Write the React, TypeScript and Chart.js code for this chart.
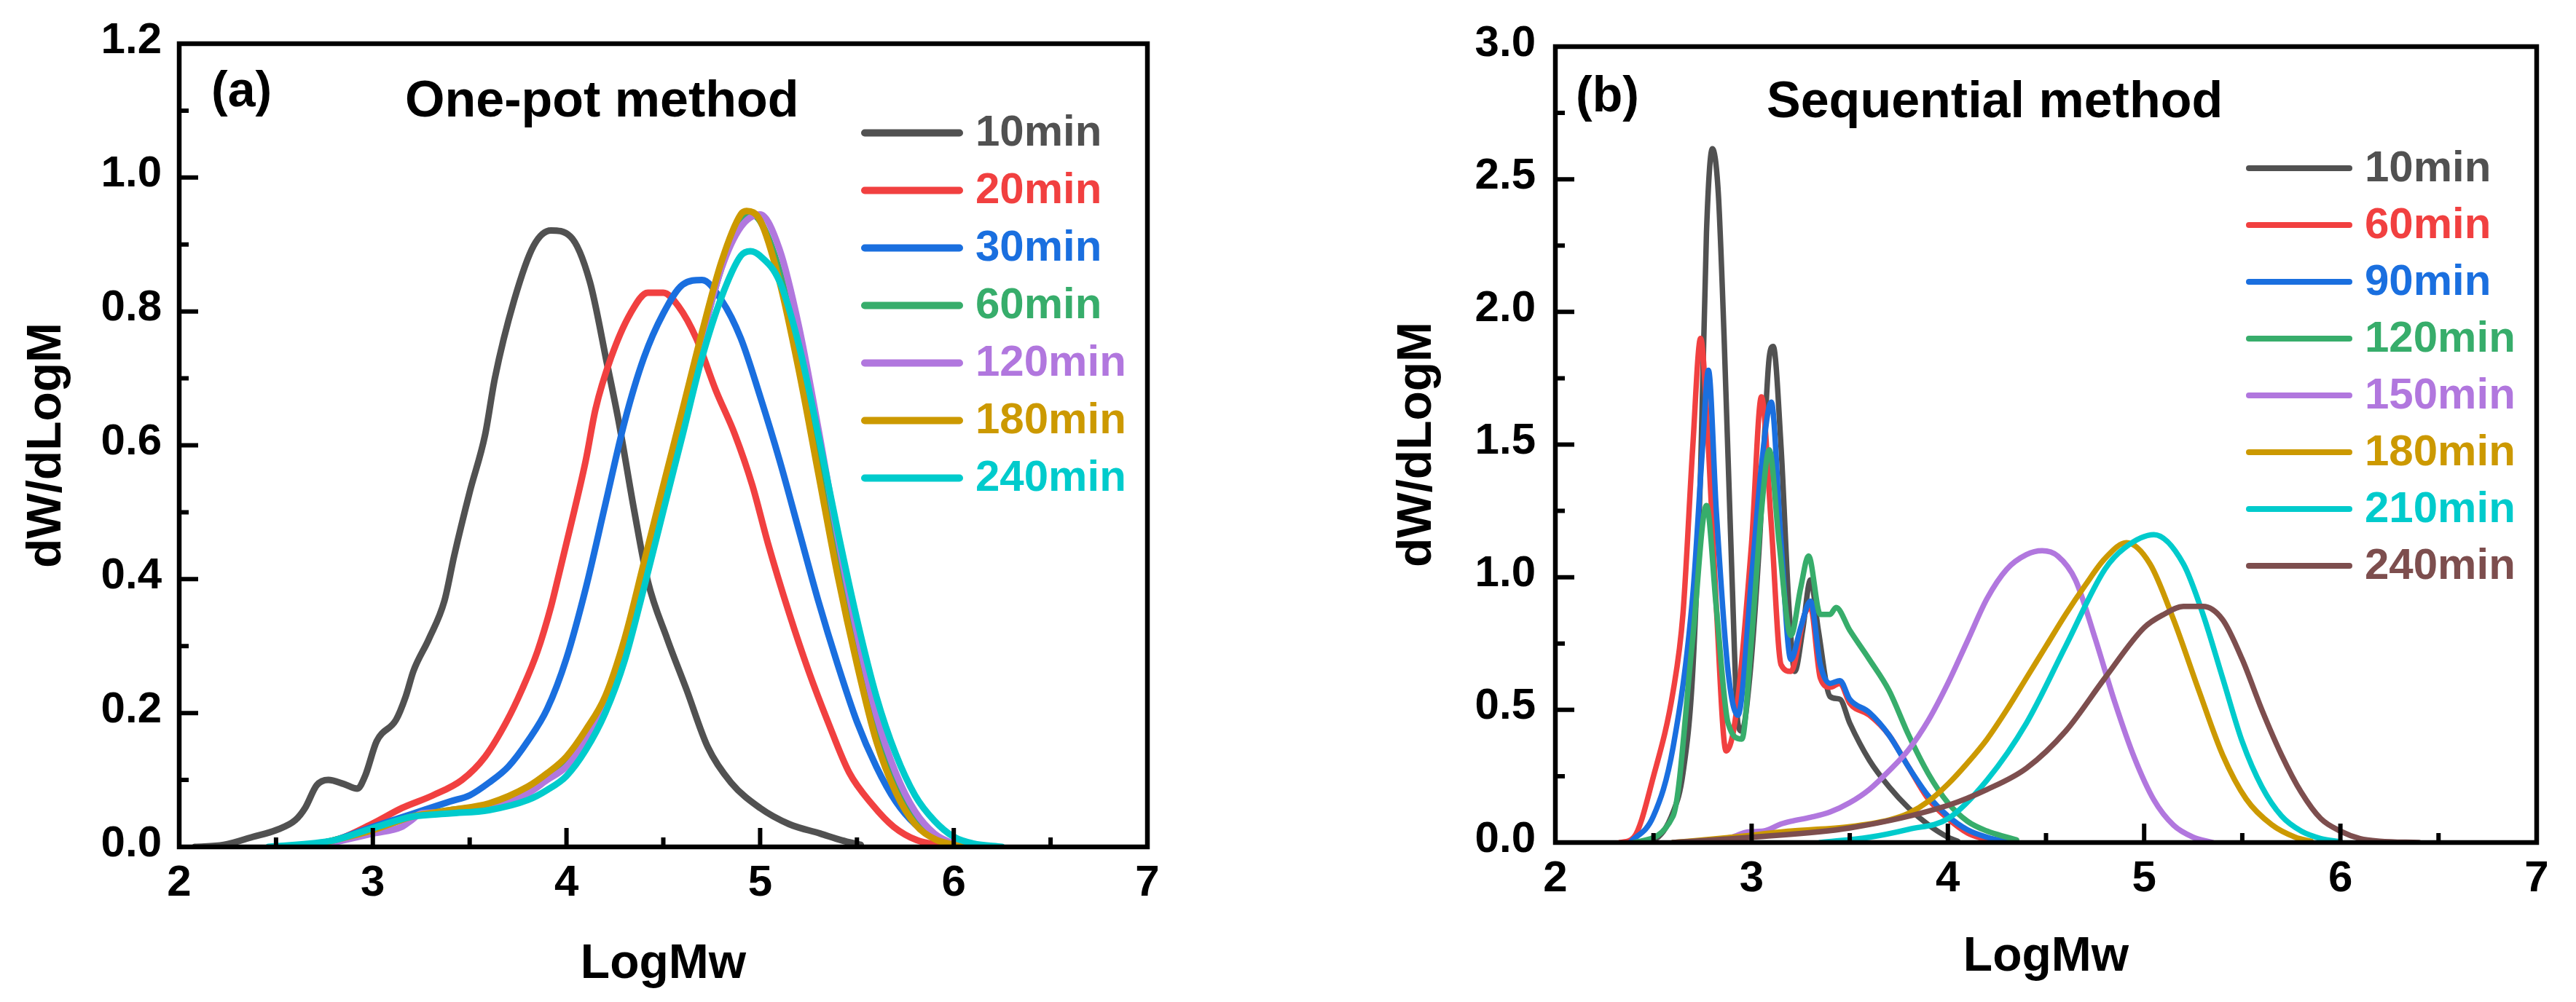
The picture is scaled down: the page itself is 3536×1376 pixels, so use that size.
import React, { useEffect, useRef } from "react";
import { Chart, registerables } from "chart.js";

Chart.register(...registerables);

const FONT = '"Liberation Sans", Arial, Helvetica, sans-serif';

// ---------- Panel (a): One-pot method ----------
const A_LABELS = ["10min", "20min", "30min", "60min", "120min", "180min", "240min"];
const A_COLORS = ["#515151", "#F14040", "#1A6FDF", "#37AD6B", "#B177DE", "#CC9900", "#00CBCC"];

const A10_X = [2.08, 2.23, 2.38, 2.5, 2.6, 2.65, 2.71, 2.77, 2.85, 2.92, 2.96, 3.02, 3.12, 3.17, 3.21, 3.29, 3.37, 3.42, 3.5, 3.58, 3.63, 3.73, 3.83, 3.92, 4.02, 4.12, 4.21, 4.27, 4.35, 4.42, 4.52, 4.62, 4.73, 4.85, 5.0, 5.15, 5.31, 5.42, 5.52];
const A10_Y = [0, 0.003, 0.015, 0.025, 0.04, 0.058, 0.092, 0.1, 0.094, 0.087, 0.106, 0.158, 0.19, 0.225, 0.263, 0.311, 0.368, 0.435, 0.53, 0.616, 0.7, 0.817, 0.898, 0.921, 0.912, 0.845, 0.721, 0.635, 0.502, 0.397, 0.311, 0.235, 0.149, 0.096, 0.058, 0.034, 0.02, 0.01, 0.003];

const A20_X = [2.62, 2.81, 3.0, 3.15, 3.31, 3.46, 3.58, 3.69, 3.77, 3.85, 3.92, 3.96, 4.04, 4.1, 4.15, 4.23, 4.33, 4.42, 4.5, 4.58, 4.67, 4.77, 4.87, 4.96, 5.04, 5.15, 5.25, 5.35, 5.46, 5.58, 5.69, 5.81, 5.94];
const A20_Y = [0, 0.01, 0.035, 0.058, 0.077, 0.1, 0.135, 0.187, 0.235, 0.292, 0.359, 0.406, 0.502, 0.578, 0.654, 0.731, 0.797, 0.828, 0.828, 0.807, 0.76, 0.683, 0.616, 0.54, 0.454, 0.349, 0.263, 0.187, 0.111, 0.063, 0.03, 0.01, 0.002];

const A30_X = [2.62, 2.8, 3.0, 3.2, 3.4, 3.5, 3.6, 3.7, 3.8, 3.9, 4.0, 4.1, 4.2, 4.3, 4.4, 4.5, 4.6, 4.7, 4.8, 4.9, 5.0, 5.1, 5.2, 5.3, 5.4, 5.5, 5.6, 5.7, 5.8, 5.9, 6.0];
const A30_Y = [0, 0.01, 0.03, 0.049, 0.068, 0.077, 0.096, 0.12, 0.158, 0.206, 0.282, 0.387, 0.511, 0.635, 0.731, 0.797, 0.84, 0.847, 0.817, 0.76, 0.673, 0.578, 0.473, 0.368, 0.273, 0.187, 0.12, 0.068, 0.034, 0.015, 0.004];

const A60_X = [2.65, 2.8, 3.0, 3.2, 3.4, 3.6, 3.8, 3.9, 4.0, 4.1, 4.2, 4.3, 4.4, 4.5, 4.6, 4.7, 4.8, 4.9, 4.95, 5.0, 5.1, 5.2, 5.3, 5.4, 5.5, 5.6, 5.7, 5.8, 5.9, 6.0, 6.05];
const A60_Y = [0, 0.01, 0.025, 0.045, 0.055, 0.063, 0.085, 0.105, 0.13, 0.17, 0.22, 0.3, 0.41, 0.53, 0.645, 0.76, 0.865, 0.935, 0.945, 0.935, 0.86, 0.73, 0.58, 0.43, 0.29, 0.17, 0.09, 0.04, 0.015, 0.004, 0];

const A120_X = [2.7, 3.0, 3.15, 3.2, 3.25, 3.4, 3.6, 3.8, 3.9, 4.0, 4.1, 4.2, 4.3, 4.4, 4.5, 4.6, 4.7, 4.8, 4.9, 5.0, 5.1, 5.2, 5.3, 5.4, 5.5, 5.6, 5.7, 5.8, 5.9, 6.0, 6.08];
const A120_Y = [0, 0.02, 0.03, 0.04, 0.05, 0.052, 0.06, 0.08, 0.1, 0.12, 0.16, 0.21, 0.29, 0.41, 0.52, 0.64, 0.76, 0.864, 0.926, 0.945, 0.893, 0.778, 0.626, 0.464, 0.32, 0.197, 0.111, 0.053, 0.02, 0.005, 0];

const A180_X = [2.65, 2.8, 3.0, 3.2, 3.4, 3.6, 3.8, 3.9, 4.0, 4.1, 4.2, 4.3, 4.4, 4.5, 4.6, 4.7, 4.8, 4.9, 4.93, 5.0, 5.1, 5.2, 5.3, 5.4, 5.5, 5.6, 5.7, 5.8, 5.9, 6.0, 6.05];
const A180_Y = [0, 0.01, 0.025, 0.045, 0.055, 0.065, 0.09, 0.11, 0.135, 0.175, 0.225, 0.311, 0.425, 0.54, 0.654, 0.769, 0.874, 0.945, 0.95, 0.936, 0.845, 0.712, 0.559, 0.406, 0.273, 0.158, 0.082, 0.034, 0.012, 0.003, 0];

const A240_X = [2.46, 2.8, 3.0, 3.2, 3.4, 3.6, 3.8, 3.9, 4.0, 4.1, 4.2, 4.3, 4.4, 4.5, 4.6, 4.7, 4.8, 4.9, 4.95, 5.0, 5.1, 5.2, 5.3, 5.4, 5.5, 5.6, 5.7, 5.8, 5.9, 6.0, 6.1, 6.25];
const A240_Y = [0, 0.01, 0.028, 0.045, 0.05, 0.055, 0.07, 0.085, 0.106, 0.145, 0.2, 0.278, 0.387, 0.502, 0.616, 0.731, 0.821, 0.883, 0.89, 0.883, 0.845, 0.75, 0.616, 0.473, 0.34, 0.225, 0.139, 0.077, 0.039, 0.015, 0.005, 0];

const A_X = [A10_X, A20_X, A30_X, A60_X, A120_X, A180_X, A240_X];
const A_Y = [A10_Y, A20_Y, A30_Y, A60_Y, A120_Y, A180_Y, A240_Y];

// ---------- Panel (b): Sequential method ----------
const B_LABELS = ["10min", "60min", "90min", "120min", "150min", "180min", "210min", "240min"];
const B_COLORS = ["#515151", "#F14040", "#1A6FDF", "#37AD6B", "#B177DE", "#CC9900", "#00CBCC", "#7D4E4E"];

const B10_X = [2.4, 2.5, 2.6, 2.65, 2.7, 2.74, 2.77, 2.8, 2.83, 2.86, 2.9, 2.93, 2.95, 2.99, 3.04, 3.09, 3.11, 3.15, 3.19, 3.22, 3.26, 3.3, 3.34, 3.4, 3.45, 3.5, 3.6, 3.7, 3.8, 3.9, 4.0, 4.05];
const B10_Y = [0, 0.01, 0.115, 0.26, 0.645, 1.4, 2.3, 2.615, 2.45, 1.9, 1.0, 0.45, 0.42, 0.62, 1.13, 1.83, 1.87, 1.49, 0.89, 0.645, 0.8, 0.99, 0.8, 0.55, 0.54, 0.45, 0.31, 0.21, 0.13, 0.067, 0.02, 0.005];

const B60_X = [2.33, 2.4, 2.5, 2.6, 2.65, 2.7, 2.74, 2.78, 2.82, 2.87, 2.92, 3.0, 3.05, 3.1, 3.15, 3.2, 3.27, 3.3, 3.35, 3.4, 3.45, 3.5, 3.6, 3.7, 3.8, 3.9, 4.0, 4.1, 4.2];
const B60_Y = [0, 0.02, 0.25, 0.57, 0.86, 1.49, 1.9, 1.49, 0.89, 0.345, 0.48, 1.13, 1.68, 1.2, 0.67, 0.645, 0.86, 0.886, 0.62, 0.585, 0.6, 0.525, 0.48, 0.405, 0.284, 0.164, 0.09, 0.036, 0.01];

const B90_X = [2.38, 2.5, 2.6, 2.7, 2.75, 2.78, 2.82, 2.88, 2.93, 3.0, 3.05, 3.1, 3.15, 3.2, 3.25, 3.3, 3.35, 3.4, 3.45, 3.5, 3.6, 3.7, 3.8, 3.9, 4.0, 4.1, 4.2, 4.3];
const B90_Y = [0, 0.1, 0.36, 0.93, 1.49, 1.78, 1.25, 0.645, 0.48, 1.0, 1.42, 1.66, 1.13, 0.69, 0.81, 0.91, 0.67, 0.6, 0.61, 0.54, 0.49, 0.405, 0.284, 0.176, 0.1, 0.048, 0.02, 0.003];

const B120_X = [2.4, 2.6, 2.7, 2.77, 2.82, 2.88, 2.95, 3.0, 3.05, 3.09, 3.14, 3.2, 3.25, 3.29, 3.35, 3.4, 3.43, 3.5, 3.6, 3.7, 3.8, 3.9, 4.0, 4.1, 4.2, 4.3, 4.35];
const B120_Y = [0, 0.1, 0.77, 1.27, 0.886, 0.45, 0.39, 0.77, 1.25, 1.48, 1.13, 0.78, 0.96, 1.08, 0.86, 0.86, 0.886, 0.8, 0.69, 0.573, 0.405, 0.26, 0.15, 0.08, 0.043, 0.02, 0.01];

const B150_X = [2.7, 2.9, 2.98, 3.06, 3.15, 3.2, 3.3, 3.4, 3.5, 3.6, 3.7, 3.8, 3.9, 4.0, 4.1, 4.2, 4.3, 4.4, 4.48, 4.56, 4.65, 4.75, 4.85, 4.95, 5.05, 5.15, 5.25, 5.35];
const B150_Y = [0, 0.02, 0.04, 0.043, 0.07, 0.08, 0.095, 0.115, 0.15, 0.2, 0.27, 0.35, 0.46, 0.6, 0.76, 0.92, 1.03, 1.085, 1.1, 1.08, 0.99, 0.77, 0.53, 0.32, 0.16, 0.065, 0.02, 0];

const B180_X = [2.6, 2.9, 3.2, 3.5, 3.7, 3.8, 3.9, 4.0, 4.1, 4.2, 4.3, 4.4, 4.5, 4.6, 4.7, 4.8, 4.91, 5.03, 5.15, 5.28, 5.4, 5.52, 5.65, 5.77, 5.85];
const B180_Y = [0, 0.02, 0.043, 0.06, 0.085, 0.11, 0.155, 0.22, 0.3, 0.39, 0.5, 0.62, 0.74, 0.86, 0.97, 1.07, 1.13, 1.05, 0.84, 0.57, 0.33, 0.164, 0.067, 0.02, 0.005];

const B210_X = [3.35, 3.6, 3.8, 4.0, 4.2, 4.4, 4.6, 4.8, 4.9, 5.05, 5.2, 5.3, 5.4, 5.5, 5.6, 5.7, 5.8, 5.9, 6.0];
const B210_Y = [0, 0.02, 0.05, 0.09, 0.236, 0.45, 0.74, 1.03, 1.11, 1.16, 1.05, 0.86, 0.62, 0.38, 0.21, 0.1, 0.043, 0.015, 0.003];

const B240_X = [2.6, 3.0, 3.5, 4.0, 4.2, 4.4, 4.6, 4.8, 5.0, 5.1, 5.2, 5.3, 5.4, 5.5, 5.6, 5.7, 5.8, 5.9, 6.0, 6.1, 6.2, 6.4];
const B240_Y = [0, 0.02, 0.055, 0.14, 0.2, 0.28, 0.42, 0.62, 0.81, 0.86, 0.89, 0.89, 0.84, 0.69, 0.5, 0.33, 0.19, 0.09, 0.043, 0.015, 0.005, 0];

const B_X = [B10_X, B60_X, B90_X, B120_X, B150_X, B180_X, B210_X, B240_X];
const B_Y = [B10_Y, B60_Y, B90_Y, B120_Y, B150_Y, B180_Y, B210_Y, B240_Y];

// axis ranges / ticks
const X_MIN = 2, X_MAX = 7, X_STEP = 1;
const A_Y_MAX = 1.2, A_Y_STEP = 0.2;
const B_Y_MAX = 3.0, B_Y_STEP = 0.5;

type Spec = {
  labels: string[]; colors: string[]; xs: number[][]; ys: number[][];
  yMax: number; yStep: number;
  lineWidth: number;
  top: number; padRight: number; yAxisW: number; xAxisH: number;
  xTitlePad: number; yTitlePad: number; yTickPad: number;
  tag: string; tagX: number; tagY: number;
  title: string; titleX: number; titleY: number;
  legX0: number; legX1: number; legTX: number; legY0: number; legDY: number; legLW: number;
};

function decorPlugin(p: Spec) {
  return {
    id: "panelDecor",
    afterDraw(chart: any) {
      const { ctx, chartArea: a, scales } = chart;
      const xs = scales.x, ys = scales.y;
      ctx.save();
      ctx.strokeStyle = "#000";
      ctx.lineWidth = 6;
      ctx.lineCap = "butt";
      ctx.beginPath();
      const xv = xs.ticks.map((t: any) => t.value);
      xv.forEach((v: number, i: number) => {
        const px = xs.getPixelForValue(v);
        ctx.moveTo(px, a.bottom); ctx.lineTo(px, a.bottom - 26);
        if (i < xv.length - 1) {
          const mx = xs.getPixelForValue((v + xv[i + 1]) / 2);
          ctx.moveTo(mx, a.bottom); ctx.lineTo(mx, a.bottom - 13);
        }
      });
      const yv = ys.ticks.map((t: any) => t.value);
      yv.forEach((v: number, i: number) => {
        const py = ys.getPixelForValue(v);
        ctx.moveTo(a.left, py); ctx.lineTo(a.left + 26, py);
        if (i < yv.length - 1) {
          const my = ys.getPixelForValue((v + yv[i + 1]) / 2);
          ctx.moveTo(a.left, my); ctx.lineTo(a.left + 13, my);
        }
      });
      ctx.stroke();
      ctx.lineWidth = 6.5;
      ctx.lineJoin = "miter";
      ctx.strokeRect(a.left, a.top, a.right - a.left, a.bottom - a.top);

      ctx.fillStyle = "#000";
      ctx.textAlign = "left";
      ctx.textBaseline = "alphabetic";
      ctx.font = `bold 68px ${FONT}`;
      ctx.fillText(p.tag, p.tagX, p.tagY);
      ctx.font = `bold 70px ${FONT}`;
      ctx.fillText(p.title, p.titleX, p.titleY);

      chart.data.datasets.forEach((ds: any, i: number) => {
        const y = p.legY0 + i * p.legDY;
        ctx.strokeStyle = ds.borderColor;
        ctx.lineWidth = p.legLW;
        ctx.lineCap = "round";
        ctx.beginPath();
        ctx.moveTo(p.legX0, y);
        ctx.lineTo(p.legX1, y);
        ctx.stroke();
        ctx.fillStyle = ds.borderColor;
        ctx.font = `bold 60px ${FONT}`;
        ctx.textBaseline = "middle";
        ctx.fillText(ds.label, p.legTX, y + 1);
      });
      ctx.restore();
    },
  };
}

function makeConfig(p: Spec): any {
  const n = p.labels.length;
  return {
    type: "line",
    data: {
      datasets: p.labels.map((label, i) => ({
        label,
        data: p.xs[i].map((x, j) => ({ x, y: p.ys[i][j] })),
        borderColor: p.colors[i],
        backgroundColor: p.colors[i],
        borderWidth: p.lineWidth,
        pointRadius: 0,
        pointHoverRadius: 0,
        fill: false,
        cubicInterpolationMode: "monotone",
        borderJoinStyle: "round",
        borderCapStyle: "round",
        order: n - i,
      })),
    },
    options: {
      responsive: false,
      animation: false,
      events: [],
      layout: { padding: { left: 0, top: p.top, right: p.padRight, bottom: 0 } },
      plugins: { legend: { display: false }, tooltip: { enabled: false }, title: { display: false } },
      scales: {
        x: {
          type: "linear",
          position: "bottom",
          min: X_MIN,
          max: X_MAX,
          ticks: {
            stepSize: X_STEP,
            padding: 14,
            color: "#000",
            maxRotation: 0,
            autoSkip: false,
            font: { family: FONT, size: 60, weight: "bold" },
          },
          grid: { display: false, drawTicks: false },
          border: { display: false },
          title: {
            display: true,
            text: "LogMw",
            color: "#000",
            font: { family: FONT, size: 66, weight: "bold" },
            padding: { top: 0, bottom: p.xTitlePad },
          },
          afterFit: (s: any) => { s.height = p.xAxisH; },
        },
        y: {
          type: "linear",
          position: "left",
          min: 0,
          max: p.yMax,
          ticks: {
            stepSize: p.yStep,
            padding: p.yTickPad,
            labelOffset: -4,
            color: "#000",
            autoSkip: false,
            font: { family: FONT, size: 60, weight: "bold" },
            callback: (v: any) => Number(v).toFixed(1),
          },
          grid: { display: false, drawTicks: false },
          border: { display: false },
          title: {
            display: true,
            text: "dW/dLogM",
            color: "#000",
            font: { family: FONT, size: 66, weight: "bold" },
            padding: { top: p.yTitlePad, bottom: 0 },
          },
          afterFit: (s: any) => { s.width = p.yAxisW; },
        },
      },
    },
    plugins: [decorPlugin(p)],
  };
}

const SPEC_A: Spec = {
  labels: A_LABELS, colors: A_COLORS, xs: A_X, ys: A_Y,
  yMax: A_Y_MAX, yStep: A_Y_STEP, lineWidth: 9,
  top: 60, padRight: 193, yAxisW: 246, xAxisH: 213,
  xTitlePad: 12, yTitlePad: 25, yTickPad: 24,
  tag: "(a)", tagX: 290, tagY: 146,
  title: "One-pot method", titleX: 556, titleY: 160,
  legX0: 1187, legX1: 1317, legTX: 1339, legY0: 182.5, legDY: 79, legLW: 10,
};

const SPEC_B: Spec = {
  labels: B_LABELS, colors: B_COLORS, xs: B_X, ys: B_Y,
  yMax: B_Y_MAX, yStep: B_Y_STEP, lineWidth: 7.5,
  top: 64, padRight: 54, yAxisW: 367, xAxisH: 219,
  xTitlePad: 22, yTitlePad: 138, yTickPad: 27,
  tag: "(b)", tagX: 395, tagY: 153,
  title: "Sequential method", titleX: 657, titleY: 161,
  legX0: 1319, legX1: 1457, legTX: 1478, legY0: 231, legDY: 78, legLW: 8,
};

function Panel({ spec, left }: { spec: Spec; left: number }) {
  const ref = useRef<HTMLCanvasElement | null>(null);
  useEffect(() => {
    if (!ref.current) return;
    const chart = new Chart(ref.current, makeConfig(spec));
    return () => chart.destroy();
  }, [spec]);
  return (
    <canvas
      ref={ref}
      width={1768}
      height={1376}
      style={{ position: "absolute", left, top: 0, width: 1768, height: 1376 }}
    />
  );
}

export default function App() {
  return (
    <div style={{ position: "fixed", left: 0, top: 0, width: 3536, height: 1376, background: "#fff", overflow: "hidden" }}>
      <Panel spec={SPEC_A} left={0} />
      <Panel spec={SPEC_B} left={1768} />
    </div>
  );
}
